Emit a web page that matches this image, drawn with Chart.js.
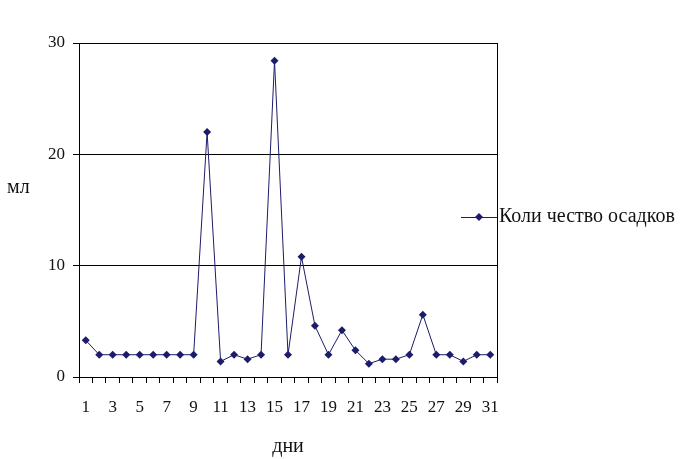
<!DOCTYPE html>
<html>
<head>
<meta charset="utf-8">
<script src="https://cdn.jsdelivr.net/npm/chart.js@4.4.1/dist/chart.umd.min.js"></script>
<style>
  html, body { margin: 0; padding: 0; background: #fff; }
  #wrap { width: 680px; height: 459px; }
</style>
</head>
<body>
<div id="wrap"><canvas id="rainChart"></canvas></div>
<script>
// дни месяца
const days = ['1','2','3','4','5','6','7','8','9','10','11','12','13','14','15','16',
              '17','18','19','20','21','22','23','24','25','26','27','28','29','30','31'];
// количество осадков, мл
const rain = [3.3, 2, 2, 2, 2, 2, 2, 2, 2, 22, 1.4, 2, 1.6, 2, 28.4, 2,
              10.8, 4.6, 2, 4.2, 2.4, 1.2, 1.6, 1.6, 2, 5.6, 2, 2, 1.4, 2, 2];
const yTicks = [0, 10, 20, 30];
const seriesName = 'Коли чество осадков';
const yTitle = 'мл';
const xTitle = 'дни';

const lineColor = '#1c1c6a';
const serif = "'Liberation Serif', 'DejaVu Serif', serif";

// рамка области построения, подпись оси Y и легенда справа
const extras = {
  id: 'extras',
  afterDraw(chart) {
    const ctx = chart.ctx;
    const a = chart.chartArea;
    ctx.save();
    ctx.strokeStyle = '#000';
    ctx.lineWidth = 1;
    ctx.strokeRect(Math.round(a.left) + 0.5, Math.round(a.top) + 0.5,
                   Math.round(a.right - a.left), Math.round(a.bottom - a.top));

    ctx.fillStyle = '#111';
    ctx.font = '20px ' + serif;
    ctx.textBaseline = 'middle';
    ctx.textAlign = 'left';
    ctx.fillText(yTitle, 7, 188);

    // легенда: линия с ромбом и текст
    const ly = 217;
    ctx.strokeStyle = lineColor;
    ctx.beginPath();
    ctx.moveTo(461, ly + 0.5);
    ctx.lineTo(497, ly + 0.5);
    ctx.stroke();
    ctx.fillStyle = lineColor;
    ctx.beginPath();
    ctx.moveTo(479, ly - 4);
    ctx.lineTo(483, ly);
    ctx.lineTo(479, ly + 4);
    ctx.lineTo(475, ly);
    ctx.closePath();
    ctx.fill();
    ctx.fillStyle = '#111';
    ctx.font = '20px ' + serif;
    ctx.fillText(seriesName, 499, ly);
    ctx.restore();
  }
};

const ctx = document.getElementById('rainChart').getContext('2d');
const rainChart = new Chart(ctx, {
  type: 'line',
  data: {
    labels: days,
    datasets: [{
      label: seriesName,
      data: rain,
      borderColor: lineColor,
      borderWidth: 1,
      backgroundColor: lineColor,
      pointStyle: 'rectRot',
      pointRadius: 4,
      pointBackgroundColor: lineColor,
      pointBorderWidth: 0,
      tension: 0,
      fill: false
    }]
  },
  options: {
    responsive: true,
    maintainAspectRatio: false,
    animation: false,
    layout: { padding: { left: 0, top: 43, right: 183, bottom: 0 } },
    plugins: {
      legend: { display: false },
      tooltip: { enabled: false }
    },
    scales: {
      x: {
        type: 'category',
        offset: true,
        afterFit(scale) { scale.height = 82; },
        grid: {
          offset: true,
          drawOnChartArea: false,
          drawTicks: true,
          tickLength: 6,
          color: '#000'
        },
        border: { display: true, color: '#000' },
        ticks: {
          autoSkip: false,
          maxRotation: 0,
          padding: 14,
          color: '#111',
          font: { family: serif, size: 17 },
          callback: function(value, index) {
            return index % 2 === 0 ? this.getLabelForValue(value) : '';
          }
        },
        title: {
          display: true,
          text: xTitle,
          color: '#111',
          font: { family: serif, size: 20 },
          padding: { top: 0, bottom: 0 }
        }
      },
      y: {
        min: yTicks[0],
        max: yTicks[yTicks.length - 1],
        afterFit(scale) { scale.width = 79; },
        afterBuildTicks(scale) { scale.ticks = yTicks.map(v => ({ value: v })); },
        grid: {
          color: '#000',
          drawTicks: true,
          tickLength: 6
        },
        border: { display: true, color: '#000' },
        ticks: {
          padding: 8,
          color: '#111',
          font: { family: serif, size: 17 }
        }
      }
    }
  },
  plugins: [extras]
});
</script>
</body>
</html>
